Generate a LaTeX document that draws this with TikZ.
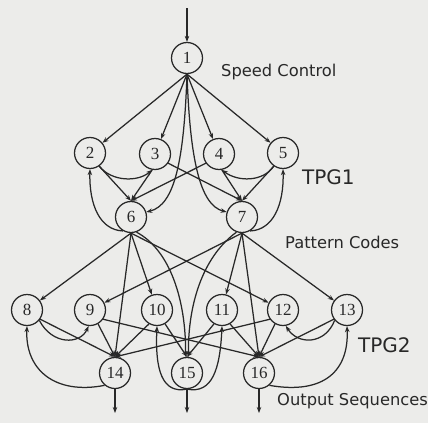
\documentclass[tikz,border=0pt]{standalone}
\usepackage{fontspec}
\setmainfont{Liberation Serif}
\newfontfamily\labfont{DejaVu Sans}
\usetikzlibrary{arrows.meta}
\definecolor{bg}{RGB}{236,236,234}
\definecolor{ink}{RGB}{40,40,40}
\tikzset{
 neuron/.style={circle,draw=ink,line width=1.25pt,minimum size=31pt,inner sep=0pt,font=\fontsize{17}{17}\selectfont,text=ink},
 link/.style={draw=ink,line width=1.25pt,-{Stealth[length=6pt,width=4.5pt]}},
 lab/.style={anchor=west,inner sep=0pt,text=ink,font=\labfont\fontsize{16.3}{17}\selectfont},
 big/.style={anchor=west,inner sep=0pt,text=ink,font=\labfont\fontsize{20}{20}\selectfont},
}
\begin{document}
\begin{tikzpicture}[x=1pt,y=-1pt]
\fill[bg] (0,0) rectangle (428,423);
\useasboundingbox (0,0) rectangle (428,423);
% nodes
\node[neuron] (n1) at (187,58) {1};
\node[neuron] (n2) at (90,153) {2};
\node[neuron] (n3) at (155,154) {3};
\node[neuron] (n4) at (219,154) {4};
\node[neuron] (n5) at (283,153) {5};
\node[neuron] (n6) at (131,217) {6};
\node[neuron] (n7) at (242,217) {7};
\node[neuron] (n8) at (27,310) {8};
\node[neuron] (n9) at (90,310) {9};
\node[neuron] (n10) at (157,310) {10};
\node[neuron] (n11) at (222,310) {11};
\node[neuron] (n12) at (283,310) {12};
\node[neuron] (n13) at (347,310) {13};
\node[neuron] (n14) at (115,373) {14};
\node[neuron] (n15) at (187,373) {15};
\node[neuron] (n16) at (259,373) {16};
% labels
\node[lab] (l1) at (221,72) {Speed Control};
\node[big] (l2) at (302,177) {TPG1};
\node[lab] (l3) at (285,242) {Pattern Codes};
\node[big] (l4) at (358,345) {TPG2};
\node[lab] (l5) at (277,401) {Output Sequences};
% input / outputs
\coordinate (in) at (187,8);
\coordinate (o14) at (115,413);
\coordinate (o15) at (187,413);
\coordinate (o16) at (259,413);
\draw[link] (in) -- (n1.north);
\draw[link] (n14.south) -- (o14);
\draw[link] (n15.south) -- (o15);
\draw[link] (n16.south) -- (o16);
% speed control
\draw[link] (n1.south) -- (n2);
\draw[link] (n1.south) -- (n3);
\draw[link] (n1.south) -- (n4);
\draw[link] (n1.south) -- (n5);
\draw[link] (n1.south) .. controls (184,160) and (175,205) .. (n6.18);
\draw[link] (n1.south) .. controls (190,160) and (200,205) .. (n7.162);
% TPG1
\draw[link] (n2.-55) -- (n6.north);
\draw[link] (n3.-100) -- (n6.north);
\draw[link] (n4.-145) -- (n6.north);
\draw[link] (n3.-35) -- (n7.north);
\draw[link] (n4.-80) -- (n7.north);
\draw[link] (n5.-125) -- (n7.north);
\draw[link] (n6.-120) .. controls (100,230) and (89,205) .. (n2.south);
\draw[link] (n2.-55) .. controls (112,182) and (138,182) .. (n3.-100);
\draw[link] (n7.-60) .. controls (273,230) and (284,205) .. (n5.south);
\draw[link] (n5.-125) .. controls (263,182) and (238,182) .. (n4.-80);
% pattern codes
\draw[link] (n6.south) -- (n8);
\draw[link] (n6.south) -- (n10);
\draw[link] (n6.south) -- (n12);
\draw[link] (n6.south) -- (n14.north);
\draw[link] (n6.-70) .. controls (170,250) and (186,300) .. (n15.95);
\draw[link] (n7.south) -- (n9);
\draw[link] (n7.south) -- (n11);
\draw[link] (n7.south) -- (n13);
\draw[link] (n7.south) -- (n16.north);
\draw[link] (n7.-110) .. controls (205,255) and (188,300) .. (n15.85);
% TPG2
\draw[link] (n8.-35) -- (n14.north);
\draw[link] (n9.-60) -- (n14.north);
\draw[link] (n10.-120) -- (n14.north);
\draw[link] (n12.-145) -- (n14.north);
\draw[link] (n10.-60) -- (n15.north);
\draw[link] (n11.-120) -- (n15.north);
\draw[link] (n9.-35) -- (n16.north);
\draw[link] (n11.-60) -- (n16.north);
\draw[link] (n12.-120) -- (n16.north);
\draw[link] (n13.-145) -- (n16.north);
\draw[link] (n14.-130) .. controls (55,395) and (25,370) .. (n8.south);
\draw[link] (n8.-40) .. controls (52,345) and (80,345) .. (n9.-95);
\draw[link] (n15.south) .. controls (162,394) and (155,370) .. (n10.south);
\draw[link] (n15.south) .. controls (212,394) and (220,370) .. (n11.south);
\draw[link] (n16.-50) .. controls (325,395) and (349,370) .. (n13.south);
\draw[link] (n13.-140) .. controls (325,345) and (298,345) .. (n12.-80);
\end{tikzpicture}
\end{document}
